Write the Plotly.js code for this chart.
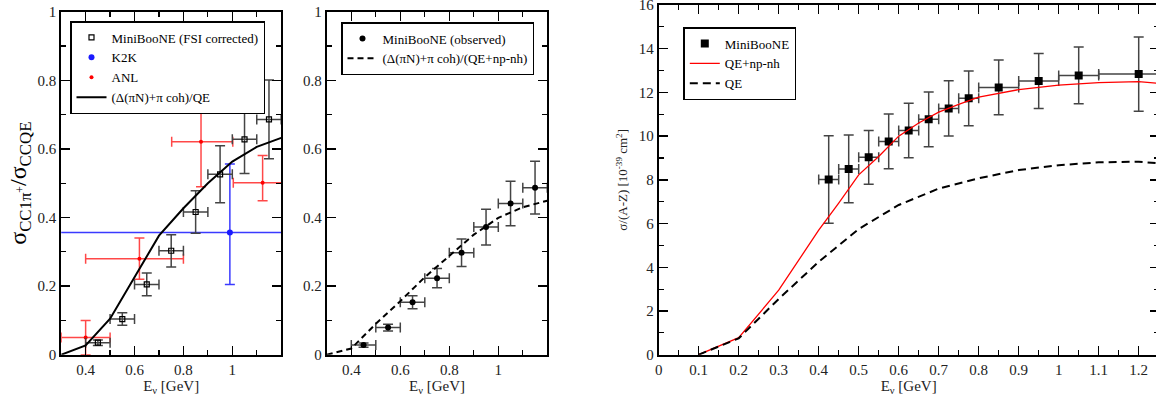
<!DOCTYPE html>
<html><head><meta charset="utf-8">
<script src="https://cdn.plot.ly/plotly-3.0.1.min.js"></script>
<style>html,body{margin:0;padding:0;overflow:hidden;background:#fff}#chart{width:1160px;height:396px}</style>
</head><body><div id="chart"></div><script>
// ---- Left panel: sigma(CC1pi+)/sigma(CCQE) ----
const mbFsiE = [0.45, 0.55, 0.65, 0.75, 0.85, 0.95, 1.05, 1.15];
const mbFsiR = [0.035, 0.104, 0.205, 0.303, 0.416, 0.526, 0.628, 0.686];
const mbFsiErr = [0.008, 0.018, 0.033, 0.047, 0.062, 0.083, 0.1, 0.115];
const mbFsiEErr = [0.05, 0.05, 0.05, 0.05, 0.05, 0.05, 0.05, 0.05];
const k2kE = [0.99];
const k2kR = [0.356];
const k2kErrUp = [0.2];
const k2kErrDn = [0.151];
const k2kEErr = [0.7];
const anlE = [0.4, 0.62, 0.872, 1.124];
const anlR = [0.05, 0.28, 0.621, 0.501];
const anlErrUp = [0.05, 0.06, 0.139, 0.08];
const anlErrDn = [0.05, 0.06, 0.131, 0.052];
const anlEErrPlus = [0.1, 0.18, 0.13, 0.2];
const anlEErrMinus = [0.1, 0.22, 0.12, 0.12];
const theoE = [0.3, 0.4, 0.5, 0.6, 0.7, 0.8, 0.9, 1.0, 1.1, 1.2];
const theoR = [0, 0.027, 0.105, 0.225, 0.347, 0.427, 0.50, 0.563, 0.606, 0.632];
// ---- Middle panel: observed ----
const mbObsE = [0.45, 0.55, 0.65, 0.75, 0.85, 0.95, 1.05, 1.15];
const mbObsR = [0.028, 0.079, 0.153, 0.223, 0.297, 0.372, 0.441, 0.487];
const mbObsErr = [0.006, 0.01, 0.019, 0.028, 0.04, 0.052, 0.065, 0.077];
const theo2R = [0, 0.018, 0.09, 0.156, 0.226, 0.289, 0.35, 0.399, 0.43, 0.449];
// ---- Right panel: sigma/(A-Z) ----
const mbE = [0.425, 0.475, 0.525, 0.575, 0.625, 0.675, 0.725, 0.775, 0.85, 0.95, 1.05, 1.2];
const mbS = [8.02, 8.5, 9.03, 9.76, 10.26, 10.77, 11.27, 11.73, 12.23, 12.52, 12.78, 12.84];
const mbSErr = [2.0, 1.55, 1.23, 1.25, 1.25, 1.25, 1.26, 1.25, 1.25, 1.26, 1.3, 1.7];
const mbEErr = [0.025, 0.025, 0.025, 0.025, 0.025, 0.025, 0.025, 0.025, 0.05, 0.05, 0.05, 0.1];
const qeNpE = [0.1, 0.2, 0.3, 0.4, 0.45, 0.5, 0.55, 0.6, 0.65, 0.7, 0.75, 0.8, 0.9, 1.0, 1.1, 1.2, 1.25];
const qeNpS = [0, 0.78, 2.95, 5.7, 6.94, 8.23, 9.07, 10.0, 10.6, 11.1, 11.45, 11.78, 12.13, 12.33, 12.45, 12.49, 12.42];
const qeE = [0.1, 0.2, 0.3, 0.4, 0.5, 0.6, 0.7, 0.8, 0.9, 1.0, 1.1, 1.2, 1.25];
const qeS = [0, 0.75, 2.55, 4.25, 5.75, 6.85, 7.6, 8.07, 8.45, 8.67, 8.8, 8.83, 8.76];

const SERIF = 'Liberation Serif, Times New Roman, serif';
const W = 1160, H = 396;
const errGray = '#444';

const traces = [
  {x: anlE, y: anlR, type: 'scatter', mode: 'markers', name: 'ANL', xaxis: 'x', yaxis: 'y', legend: 'legend', legendrank: 3,
   marker: {color: 'red', size: 4, symbol: 'circle'},
   error_y: {type: 'data', symmetric: false, array: anlErrUp, arrayminus: anlErrDn, color: 'rgba(255,40,40,0.85)', thickness: 1.5, width: 5},
   error_x: {type: 'data', symmetric: false, array: anlEErrPlus, arrayminus: anlEErrMinus, color: 'rgba(255,40,40,0.85)', thickness: 1.5, width: 5}},
  {x: k2kE, y: k2kR, type: 'scatter', mode: 'markers', name: 'K2K', xaxis: 'x', yaxis: 'y', legend: 'legend', legendrank: 2,
   marker: {color: '#1a1aff', size: 6, symbol: 'circle'},
   error_y: {type: 'data', symmetric: false, array: k2kErrUp, arrayminus: k2kErrDn, color: '#3a3aff', thickness: 1.5, width: 5},
   error_x: {type: 'data', array: k2kEErr, color: '#3a3aff', thickness: 1.5, width: 5}},
  {x: mbFsiE, y: mbFsiR, type: 'scatter', mode: 'markers', name: 'MiniBooNE (FSI corrected)', xaxis: 'x', yaxis: 'y', legend: 'legend', legendrank: 1,
   marker: {color: 'black', size: 5, symbol: 'square-open', line: {width: 1.2}},
   error_y: {type: 'data', array: mbFsiErr, color: errGray, thickness: 1.5, width: 5},
   error_x: {type: 'data', array: mbFsiEErr, color: errGray, thickness: 1.5, width: 5}},
  {x: theoE, y: theoR, type: 'scatter', mode: 'lines', name: '(Δ(πN)+π coh)/QE', xaxis: 'x', yaxis: 'y', legend: 'legend', legendrank: 4,
   line: {color: 'black', width: 2}},

  {x: mbObsE, y: mbObsR, type: 'scatter', mode: 'markers', name: 'MiniBooNE (observed)', xaxis: 'x2', yaxis: 'y2', legend: 'legend2',
   marker: {color: 'black', size: 6, symbol: 'circle'},
   error_y: {type: 'data', array: mbObsErr, color: errGray, thickness: 1.5, width: 5},
   error_x: {type: 'data', array: mbFsiEErr, color: errGray, thickness: 1.5, width: 5}},
  {x: theoE, y: theo2R, type: 'scatter', mode: 'lines', name: '(Δ(πN)+π coh)/(QE+np-nh)', xaxis: 'x2', yaxis: 'y2', legend: 'legend2',
   line: {color: 'black', width: 2, dash: '6px,4px'}},

  {x: mbE, y: mbS, type: 'scatter', mode: 'markers', name: 'MiniBooNE', xaxis: 'x3', yaxis: 'y3', legend: 'legend3',
   marker: {color: 'black', size: 8, symbol: 'square'},
   error_y: {type: 'data', array: mbSErr, color: errGray, thickness: 1.5, width: 5},
   error_x: {type: 'data', array: mbEErr, color: errGray, thickness: 1.5, width: 5}},
  {x: qeNpE, y: qeNpS, type: 'scatter', mode: 'lines', name: 'QE+np-nh', xaxis: 'x3', yaxis: 'y3', legend: 'legend3',
   line: {color: 'red', width: 1.3}},
  {x: qeE, y: qeS, type: 'scatter', mode: 'lines', name: 'QE', xaxis: 'x3', yaxis: 'y3', legend: 'legend3',
   line: {color: 'black', width: 2, dash: '8px,5px'}}
];

function px(v) { return v / W; }
function py(v) { return 1 - v / H; }

const tickFont = {family: SERIF, size: 15, color: '#222'};
function axisBase(extra) {
  return Object.assign({
    showline: true, linecolor: 'black', linewidth: 2, mirror: 'ticks',
    ticks: 'inside', ticklen: 9, tickwidth: 1.5, tickcolor: 'black',
    showgrid: false, zeroline: false, tickfont: tickFont, fixedrange: true,
    ticklabeloverflow: 'allow'
  }, extra);
}
function minor(d, t0) {
  return {dtick: d, tick0: t0, ticks: 'inside', ticklen: 5, tickwidth: 1.2, tickcolor: 'black'};
}

const xTitle = {text: 'E<sub>ν</sub> [GeV]', font: {family: SERIF, size: 15, color: '#222'}, standoff: 4};
const legFont = {family: SERIF, size: 13, color: 'black'};

const layout = {
  width: W, height: H,
  margin: {l: 0, r: 0, t: 0, b: 0},
  paper_bgcolor: 'white', plot_bgcolor: 'white',
  showlegend: true,
  font: {family: SERIF},
  xaxis: axisBase({domain: [px(61.2), px(281.2)], range: [0.3, 1.2], tickvals: [0.4, 0.6, 0.8, 1.0], ticktext: ['0.4', '0.6', '0.8', '1'],
    minor: minor(0.1, 0.3), title: xTitle, anchor: 'y'}),
  yaxis: axisBase({domain: [py(354.7), py(11.7)], range: [0, 1], tickvals: [0, 0.2, 0.4, 0.6, 0.8, 1], ticktext: ['0', '0.2', '0.4', '0.6', '0.8', '1'],
    minor: minor(0.1, 0), anchor: 'x',
    title: {text: 'σ<sub>CC1π<sup>+</sup></sub>/σ<sub>CCQE</sub>', font: {family: SERIF, size: 24, color: 'black'}, standoff: 4}}),
  xaxis2: axisBase({domain: [px(326.8), px(547.3)], range: [0.3, 1.2], tickvals: [0.4, 0.6, 0.8, 1.0], ticktext: ['0.4', '0.6', '0.8', '1'],
    minor: minor(0.1, 0.3), title: xTitle, anchor: 'y2'}),
  yaxis2: axisBase({domain: [py(354.7), py(11.7)], range: [0, 1], tickvals: [0, 0.2, 0.4, 0.6, 0.8, 1], ticktext: ['0', '0.2', '0.4', '0.6', '0.8', '1'],
    minor: minor(0.1, 0), anchor: 'x2'}),
  xaxis3: axisBase({domain: [px(658.7), px(1158.7)], range: [0, 1.25], tickvals: [0, 0.1, 0.2, 0.3, 0.4, 0.5, 0.6, 0.7, 0.8, 0.9, 1.0, 1.1, 1.2],
    ticktext: ['0', '0.1', '0.2', '0.3', '0.4', '0.5', '0.6', '0.7', '0.8', '0.9', '1', '1.1', '1.2'],
    minor: minor(0.05, 0), title: xTitle, anchor: 'y3'}),
  yaxis3: axisBase({domain: [py(354.7), py(5)], range: [0, 16], tickvals: [0, 2, 4, 6, 8, 10, 12, 14, 16],
    minor: minor(1, 0), anchor: 'x3',
    title: {text: 'σ/(A-Z) [10<sup>-39</sup> cm<sup>2</sup>]', font: {family: SERIF, size: 13, color: '#222'}, standoff: 8}}),
  legend: {x: px(70), y: py(21), xanchor: 'left', yanchor: 'top', bgcolor: 'white', bordercolor: 'black', borderwidth: 1.5,
    font: legFont, traceorder: 'normal', itemwidth: 30},
  legend2: {x: px(341), y: py(22), xanchor: 'left', yanchor: 'top', bgcolor: 'white', bordercolor: 'black', borderwidth: 1.5,
    font: legFont, traceorder: 'normal', itemwidth: 30},
  legend3: {x: px(683.3), y: py(27), xanchor: 'left', yanchor: 'top', bgcolor: 'white', bordercolor: 'black', borderwidth: 1.5,
    font: legFont, traceorder: 'normal', itemwidth: 30}
};

Plotly.newPlot('chart', traces, layout, {staticPlot: true, displayModeBar: false});
</script></body></html>
